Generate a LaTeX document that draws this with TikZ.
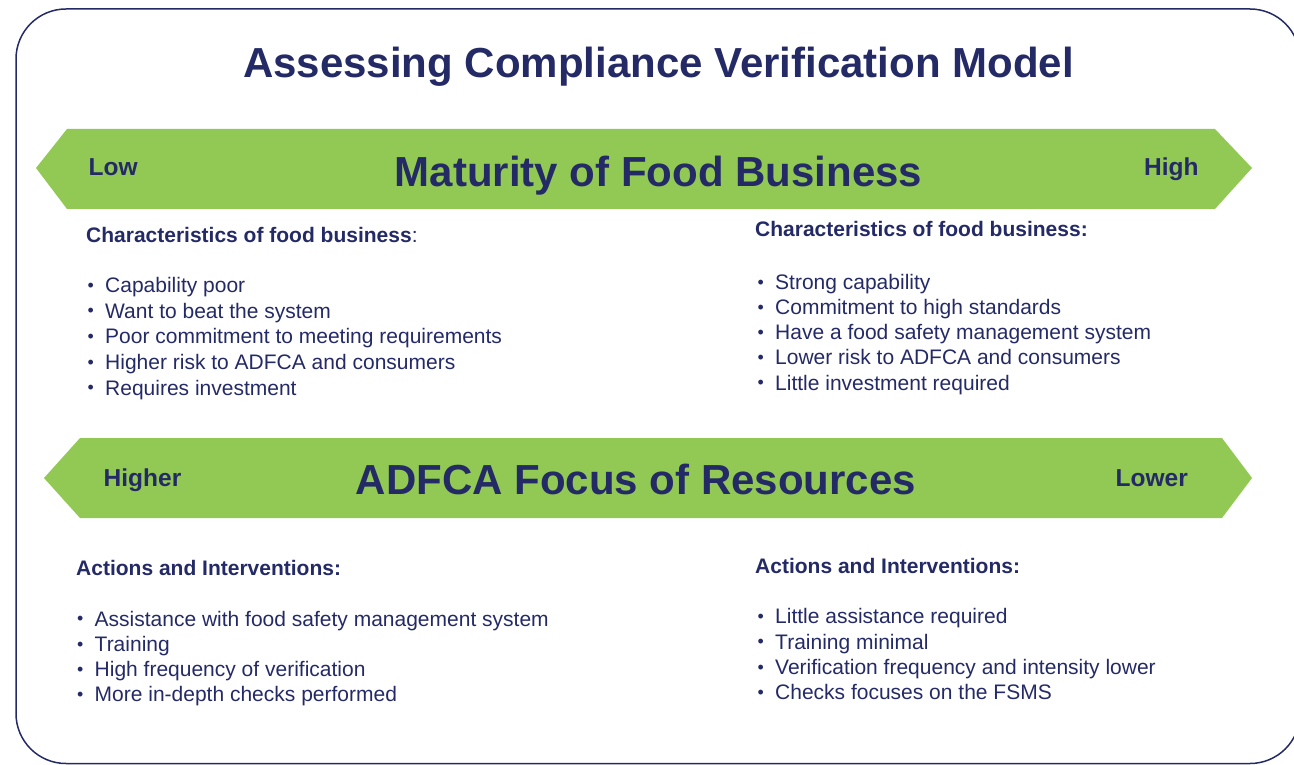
\documentclass[tikz,border=0pt]{standalone}
\usepackage{fontspec}
\setmainfont{Liberation Sans}
\definecolor{navy}{RGB}{36,42,102}
\definecolor{lgreen}{RGB}{146,201,84}
\tikzset{
  band/.style={fill=lgreen, draw=none},
  bigtitle/.style={anchor=base, inner sep=0, text=navy, font=\fontsize{42}{48}\selectfont\bfseries},
  endlabel/.style={anchor=base west, inner sep=0, text=navy, font=\fontsize{24.5}{28}\selectfont\bfseries},
  heading/.style={anchor=base west, inner sep=0, text=navy, font=\fontsize{21}{25}\selectfont},
  bitem/.style={anchor=base west, inner sep=0, text=navy, font=\fontsize{21}{25}\selectfont}
}
\newcommand{\bul}{\makebox[17.5pt][l]{\raisebox{1.2pt}{\scalebox{0.85}{•}}}}
\begin{document}
\begin{tikzpicture}[x=1pt,y=-1pt]
\useasboundingbox (0,0) rectangle (1294,765);
\begin{scope}
\clip (0,0) rectangle (1294,765);
\draw[navy, line width=1.5pt, rounded corners=50pt] (16,9) rectangle (1300,763.5);
\end{scope}
% title
\node[bigtitle] (title) at (658.5,78) {Assessing Compliance Verification Model};
% band 1
\fill[band] (36,168) -- (67,129) -- (1215,129) -- (1252,168) -- (1215,209) -- (67,209) -- cycle;
\node[bigtitle] (mat) at (658.5,186) {Maturity of Food Business};
\node[endlabel] (low) at (88.5,176) {Low};
\node[endlabel] (high) at (1144,176) {High};
% characteristics left
\node[heading] (chl) at (86,242) {\textbf{Characteristics of food business}:};
\node[bitem] (l1) at (87.5,292.3) {\bul Capability poor};
\node[bitem] (l2) at (87.5,318) {\bul Want to beat the system};
\node[bitem] (l3) at (87.5,343.7) {\bul Poor commitment to meeting requirements};
\node[bitem] (l4) at (87.5,369.4) {\bul Higher risk to ADFCA and consumers};
\node[bitem] (l5) at (87.5,395) {\bul Requires investment};
% characteristics right
\node[heading] (chr) at (755,236.7) {\textbf{Characteristics of food business:}};
\node[bitem] (r1) at (757.5,289.3) {\bul Strong capability};
\node[bitem] (r2) at (757.5,314.5) {\bul Commitment to high standards};
\node[bitem] (r3) at (757.5,339.7) {\bul Have a food safety management system};
\node[bitem] (r4) at (757.5,364.9) {\bul Lower risk to ADFCA and consumers};
\node[bitem] (r5) at (757.5,390) {\bul Little investment required};
% band 2
\fill[band] (44,478) -- (80,438) -- (1222,438) -- (1252,478) -- (1222,518) -- (80,518) -- cycle;
\node[bigtitle] (adf) at (636,494.5) {ADFCA Focus of Resources};
\node[endlabel] (higher) at (103.5,486.5) {Higher};
\node[endlabel] (lower) at (1115.5,486.5) {Lower};
% actions left
\node[heading] (acl) at (76,575) {\textbf{Actions and Interventions:}};
\node[bitem] (a1) at (77,626) {\bul Assistance with food safety management system};
\node[bitem] (a2) at (77,651.3) {\bul Training};
\node[bitem] (a3) at (77,676.6) {\bul High frequency of verification};
\node[bitem] (a4) at (77,701.8) {\bul More in-depth checks performed};
% actions right
\node[heading] (acr) at (755,573) {\textbf{Actions and Interventions:}};
\node[bitem] (b1) at (757.5,623.8) {\bul Little assistance required};
\node[bitem] (b2) at (757.5,649) {\bul Training minimal};
\node[bitem] (b3) at (757.5,674.2) {\bul Verification frequency and intensity lower};
\node[bitem] (b4) at (757.5,699.3) {\bul Checks focuses on the FSMS};
\end{tikzpicture}
\end{document}
